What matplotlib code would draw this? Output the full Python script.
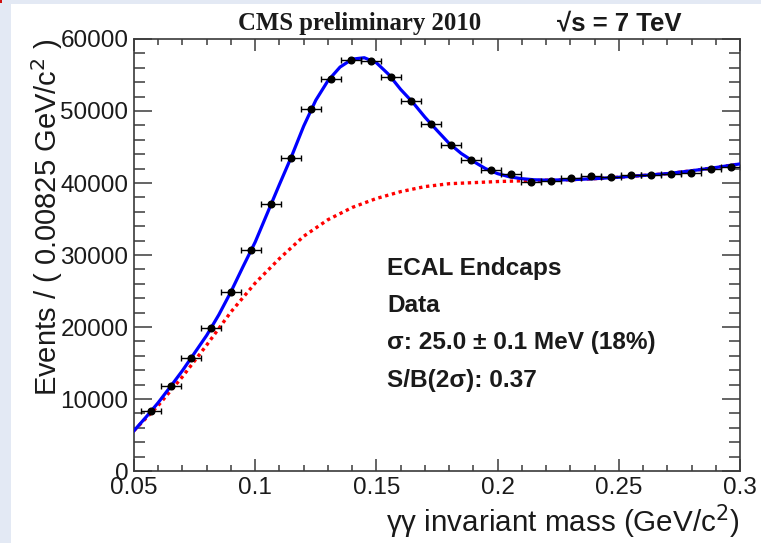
import matplotlib
matplotlib.use('Agg')
import matplotlib.pyplot as plt
from matplotlib.patches import Rectangle
from matplotlib.ticker import MultipleLocator

plt.rcParams['font.family'] = ['Liberation Sans', 'DejaVu Sans']

# binned data: bin centres (GeV/c^2) and events per bin
mass = [0.0570, 0.0653, 0.0735, 0.0818, 0.0900, 0.0983, 0.1065, 0.1148, 0.1230, 0.1313,
        0.1395, 0.1478, 0.1560, 0.1643, 0.1725, 0.1808, 0.1890, 0.1973, 0.2055, 0.2138,
        0.2220, 0.2303, 0.2385, 0.2468, 0.2550, 0.2633, 0.2715, 0.2798, 0.2880, 0.2963]
events = [8300, 11800, 15650, 19800, 24900, 30700, 37040, 43520, 50230, 54400,
          57080, 57000, 54770, 51430, 48190, 45280, 43190, 41750, 41300, 40200,
          40250, 40650, 40980, 40850, 41100, 41050, 41300, 41350, 41900, 42200]
half_bin = 0.004125

# total fit (signal + background)
fit_x = [0.050, 0.055, 0.060, 0.065, 0.070, 0.075, 0.080, 0.085, 0.090, 0.095,
         0.100, 0.105, 0.110, 0.115, 0.120, 0.125, 0.130, 0.135, 0.140, 0.145,
         0.150, 0.155, 0.160, 0.165, 0.170, 0.175, 0.180, 0.185, 0.190, 0.195,
         0.200, 0.205, 0.210, 0.215, 0.220, 0.230, 0.240, 0.250, 0.260, 0.270,
         0.280, 0.290, 0.300]
fit_y = [5600, 7500, 9500, 11700, 13950, 16400, 18850, 21700, 24900, 28400,
         31800, 35800, 39800, 43700, 47900, 51500, 54200, 56100, 57200, 57400,
         56700, 55100, 53000, 51200, 49150, 47300, 45500, 44100, 43000, 42000,
         41300, 40850, 40600, 40450, 40400, 40450, 40600, 40800, 41050, 41300,
         41700, 42150, 42650]

# background component
bkg_x = [0.05, 0.06, 0.07, 0.08, 0.09, 0.10, 0.11, 0.12, 0.13, 0.14, 0.15, 0.16, 0.17,
         0.18, 0.19, 0.20, 0.21, 0.22, 0.23, 0.24, 0.25, 0.26, 0.27, 0.28, 0.29, 0.30]
bkg_y = [5600, 9100, 13100, 17500, 22100, 26100, 29500, 32600, 34900, 36600, 37850, 38800, 39500,
         39900, 40050, 40200, 40300, 40400, 40450, 40600, 40800, 41050, 41300, 41700, 42150, 42650]

x_ticks = [0.05, 0.1, 0.15, 0.2, 0.25, 0.3]
x_labels = ['0.05', '0.1', '0.15', '0.2', '0.25', '0.3']
y_ticks = [0, 10000, 20000, 30000, 40000, 50000, 60000]
y_labels = ['0', '10000', '20000', '30000', '40000', '50000', '60000']

W, H = 761, 543
fig = plt.figure(figsize=(W / 100, H / 100), dpi=100)
fig.patch.set_facecolor('#E3E9F4')
fig.patches.append(Rectangle((11 / W, 0), 1, 1 - 4 / H, transform=fig.transFigure,
                             facecolor='white', edgecolor='none', zorder=-10))
fig.patches.append(Rectangle((0, 1 - 3 / H), 2 / W, 3 / H, transform=fig.transFigure,
                             facecolor='#D01010', edgecolor='none', zorder=-10))

ax = fig.add_axes([134 / W, 72 / H, 606 / W, 432 / H])
ax.set_facecolor('none')
ax.set_zorder(5)

ax.plot(bkg_x, bkg_y, color='#FF0000', lw=2.4, linestyle=(0, (1, 1.1)),
        dash_capstyle='butt', zorder=2)
ax.plot(fit_x, fit_y, color='#0000FF', lw=2.3, zorder=3)
ax.errorbar(mass, events, xerr=half_bin, fmt='o', color='black', ms=4.8,
            elinewidth=1.0, capsize=2.5, capthick=1.0, zorder=4)

ax.set_xlim(0.05, 0.3)
ax.set_ylim(0, 60000)
ax.set_xticks(x_ticks)
ax.set_xticklabels(x_labels)
ax.set_yticks(y_ticks)
ax.set_yticklabels(y_labels)
ax.xaxis.set_minor_locator(MultipleLocator(0.01))
ax.yaxis.set_minor_locator(MultipleLocator(2000))

for s in ax.spines.values():
    s.set_color('#3a3a3a')
    s.set_linewidth(1.2)
ax.tick_params(axis='both', which='both', direction='in', top=True, right=True,
               color='#3a3a3a', width=1.1, labelcolor='#1a1a1a', labelsize=17.5)
ax.tick_params(axis='x', which='major', length=8.6, pad=4)
ax.tick_params(axis='x', which='minor', length=4.3)
ax.tick_params(axis='y', which='major', length=13, pad=4)
ax.tick_params(axis='y', which='minor', length=8)

fig.text(740 / W, 1 - 522 / H, 'γγ invariant mass (GeV/c$^{2}$)',
         ha='right', va='center', fontsize=21.3, color='#1a1a1a')
fig.text(47 / W, 1 - 38 / H, 'Events / ( 0.00825 GeV/c$^{2}$ )', rotation=90,
         ha='center', va='top', fontsize=21, color='#1a1a1a')

fig.text(238 / W, 1 - 30 / H, 'CMS preliminary 2010', family='Liberation Serif',
         fontweight='bold', fontsize=17.8, ha='left', va='baseline', color='#1a1a1a')
fig.text(557 / W, 1 - 30 / H, '√s = 7 TeV', fontweight='bold', fontsize=18.5,
         ha='left', va='baseline', color='#1a1a1a')

info = ['ECAL Endcaps', 'Data', 'σ: 25.0 ± 0.1 MeV (18%)', 'S/B(2σ): 0.37']
for i, line in enumerate(info):
    fig.text(387 / W, 1 - (275 + 37.2 * i) / H, line, fontweight='bold', fontsize=17.6,
             ha='left', va='baseline', color='#1a1a1a')

fig.savefig('out.png', dpi=100, facecolor=fig.get_facecolor())
